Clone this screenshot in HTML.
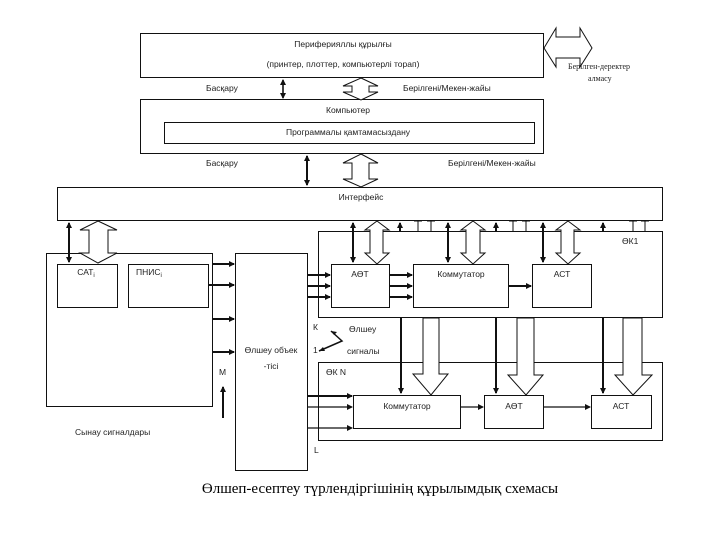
<!DOCTYPE html>
<html><head><meta charset="utf-8"><style>
html,body{margin:0;padding:0;background:#fff;}
svg{display:block;}
text{font-family:"Liberation Sans","DejaVu Sans",sans-serif;font-size:8.5px;fill:#222;}
</style></head><body>
<svg width="720" height="540" viewBox="0 0 720 540" xmlns="http://www.w3.org/2000/svg">
<defs>
<marker id="ah" markerWidth="6" markerHeight="6" refX="5" refY="3" orient="auto" markerUnits="userSpaceOnUse"><path d="M0,0 L6,3 L0,6 z" fill="#111"/></marker>
<marker id="as" markerWidth="6" markerHeight="6" refX="1" refY="3" orient="auto" markerUnits="userSpaceOnUse"><path d="M6,0 L0,3 L6,6 z" fill="#111"/></marker>
</defs>
<g fill="none" stroke="#111" stroke-width="1">
<rect x="140.5" y="33.5" width="403" height="44"/>
<rect x="140.5" y="99.5" width="403" height="54"/>
<rect x="164.5" y="122.5" width="370" height="21"/>
<rect x="57.5" y="187.5" width="605" height="33"/>
<polygon points="544,48 556,28 556,37 580,37 580,28 592,48 580,67 580,58 556,58 556,67" fill="#fff"/>
<polygon points="361,78 378,86 369,86 369,92 378,92 361,100 343,92 352,92 352,86 343,86" fill="#fff"/>
<polygon points="361,154 378,163 369,163 369,179 378,179 361,187 343,179 352,179 352,163 343,163" fill="#fff"/>
</g>
<g stroke="#111" stroke-width="1.6">
<line x1="283" y1="80" x2="283" y2="98" marker-end="url(#ah)" marker-start="url(#as)"/>
<line x1="307" y1="156" x2="307" y2="185" stroke-width="2" marker-end="url(#ah)" marker-start="url(#as)"/>
</g>
<text x="343" y="47" text-anchor="middle">Периферияллы құрылғы</text>
<text x="343" y="67" text-anchor="middle">(принтер, плоттер, компьютерлі торап)</text>
<text x="568" y="69" style="font-family:'Liberation Serif',serif;font-size:8px">Берілген-деректер</text>
<text x="588" y="81" style="font-family:'Liberation Serif',serif;font-size:8px">алмасу</text>
<text x="206" y="91">Басқару</text>
<text x="403" y="91">Берілгені/Мекен-жайы</text>
<text x="348" y="113" text-anchor="middle">Компьютер</text>
<text x="348" y="135" text-anchor="middle">Программалы қамтамасыздану</text>
<text x="206" y="166">Басқару</text>
<text x="448" y="166">Берілгені/Мекен-жайы</text>
<text x="361" y="200" text-anchor="middle">Интерфейс</text>

<g fill="none" stroke="#111" stroke-width="1">
<rect x="46.5" y="253.5" width="166" height="153"/>
<rect x="57.5" y="264.5" width="60" height="43"/>
<rect x="128.5" y="264.5" width="80" height="43"/>
<rect x="235.5" y="253.5" width="72" height="217"/>
<rect x="318.5" y="231.5" width="344" height="86"/>
<rect x="331.5" y="264.5" width="58" height="43"/>
<rect x="413.5" y="264.5" width="95" height="43"/>
<rect x="532.5" y="264.5" width="59" height="43"/>
<rect x="318.5" y="362.5" width="344" height="78"/>
<rect x="353.5" y="395.5" width="107" height="33"/>
<rect x="484.5" y="395.5" width="59" height="33"/>
<rect x="591.5" y="395.5" width="60" height="33"/>
<polygon points="98,221 117,230 108,230 108,253 117,253 98,263 80,253 89,253 89,230 80,230" fill="#fff"/>
<polygon points="377,221 389,230 383,230 383,253 389,253 377,264 365,253 370,253 370,230 365,230" fill="#fff"/>
<polygon points="473,221 485,230 480,230 480,253 485,253 473,264 461,253 466,253 466,230 461,230" fill="#fff"/>
<polygon points="568,221 580,230 574,230 574,253 580,253 568,264 556,253 561,253 561,230 556,230" fill="#fff"/>
<polygon points="423,318 439,318 439,374 448,374 431,395 413,374 423,374" fill="#fff"/>
<polygon points="517,318 534,318 534,375 543,375 526,395 508,375 517,375" fill="#fff"/>
<polygon points="623,318 642,318 642,375 652,375 633,395 615,375 623,375" fill="#fff"/>
<path d="M418,232V221M414,221H422 M431,232V221M427,221H435 M513,232V221M509,221H517 M526,232V221M522,221H530 M633,232V221M629,221H637 M645,232V221M641,221H649"/>
</g>
<g stroke="#111" stroke-width="2">
<line x1="69" y1="223" x2="69" y2="262" marker-end="url(#ah)" marker-start="url(#as)"/>
<line x1="353" y1="223" x2="353" y2="262" marker-end="url(#ah)" marker-start="url(#as)"/>
<line x1="448" y1="223" x2="448" y2="262" marker-end="url(#ah)" marker-start="url(#as)"/>
<line x1="543" y1="223" x2="543" y2="262" marker-end="url(#ah)" marker-start="url(#as)"/>
<line x1="400" y1="231" x2="400" y2="223" marker-end="url(#ah)"/>
<line x1="496" y1="231" x2="496" y2="223" marker-end="url(#ah)"/>
<line x1="603" y1="231" x2="603" y2="223" marker-end="url(#ah)"/>
<line x1="401" y1="318" x2="401" y2="393" marker-end="url(#ah)"/>
<line x1="496" y1="318" x2="496" y2="393" marker-end="url(#ah)"/>
<line x1="603" y1="318" x2="603" y2="393" marker-end="url(#ah)"/>
<line x1="213" y1="264" x2="234" y2="264" marker-end="url(#ah)"/>
<line x1="208" y1="285" x2="234" y2="285" marker-end="url(#ah)"/>
<line x1="213" y1="319" x2="234" y2="319" marker-end="url(#ah)"/>
<line x1="213" y1="352" x2="234" y2="352" marker-end="url(#ah)"/>
<line x1="308" y1="275" x2="330" y2="275" marker-end="url(#ah)"/>
<line x1="308" y1="286" x2="330" y2="286" marker-end="url(#ah)"/>
<line x1="308" y1="297" x2="330" y2="297" marker-end="url(#ah)"/>
<line x1="390" y1="275" x2="412" y2="275" marker-end="url(#ah)"/>
<line x1="390" y1="286" x2="412" y2="286" marker-end="url(#ah)"/>
<line x1="390" y1="297" x2="412" y2="297" marker-end="url(#ah)"/>
<line x1="509" y1="286" x2="531" y2="286" marker-end="url(#ah)"/>
<line x1="308" y1="396" x2="352" y2="396" marker-end="url(#ah)"/>
<line x1="223" y1="418" x2="223" y2="387" marker-end="url(#ah)"/>
</g>
<g stroke="#111" stroke-width="1.2">
<line x1="308" y1="407" x2="352" y2="407" marker-end="url(#ah)"/>
<line x1="308" y1="428" x2="352" y2="428" marker-end="url(#ah)"/>
<line x1="461" y1="407" x2="483" y2="407" marker-end="url(#ah)"/>
<line x1="544" y1="407" x2="590" y2="407" marker-end="url(#ah)"/>
<polyline points="331,331 342,341 319,351" fill="none" stroke-width="1.5"/>
</g>
<path d="M331,331 l6,1 l-3,3 z M319,351 l4,-4 l2,4 z" fill="#111"/>
<text x="86" y="275" text-anchor="middle">САТ<tspan font-size="6" dy="2">i</tspan></text>
<text x="136" y="275">ПНИС<tspan font-size="6" dy="2">i</tspan></text>
<text x="271" y="353" text-anchor="middle">Өлшеу объек</text>
<text x="271" y="369" text-anchor="middle">-тісі</text>
<text x="219" y="375">M</text>
<text x="75" y="435">Сынау сигналдары</text>
<text x="360" y="277" text-anchor="middle">АӨТ</text>
<text x="461" y="277" text-anchor="middle">Коммутатор</text>
<text x="562" y="277" text-anchor="middle">АСТ</text>
<text x="622" y="244">ӨК1</text>
<text x="313" y="330">К</text>
<text x="313" y="353">1</text>
<text x="349" y="332">Өлшеу</text>
<text x="347" y="354">сигналы</text>
<text x="326" y="375">ӨК N</text>
<text x="407" y="409" text-anchor="middle">Коммутатор</text>
<text x="514" y="409" text-anchor="middle">АӨТ</text>
<text x="621" y="409" text-anchor="middle">АСТ</text>
<text x="314" y="453">L</text>
<text x="380" y="493" text-anchor="middle" style="font-family:'Liberation Serif',serif;font-size:15px;fill:#000">Өлшеп-есептеу түрлендіргішінің құрылымдық схемасы</text>
</svg>
</body></html>
